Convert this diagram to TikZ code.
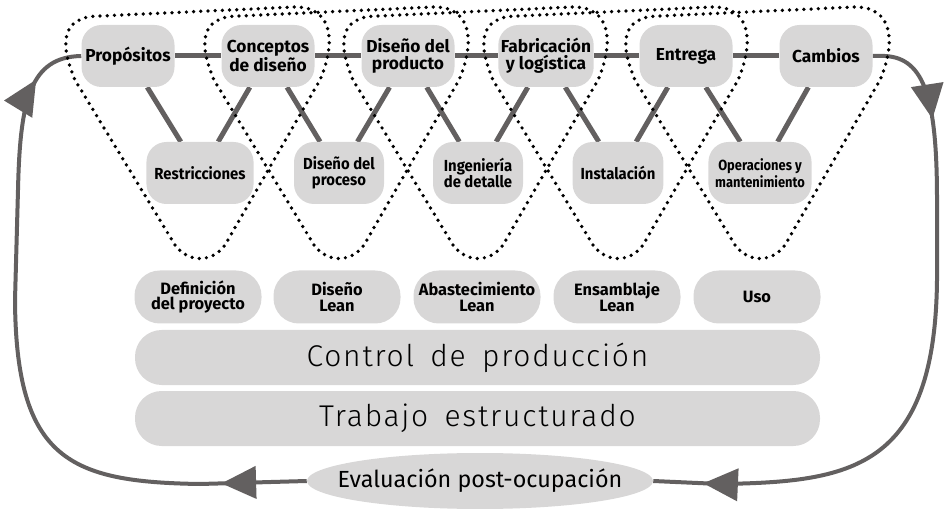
\documentclass[tikz,border=0pt]{standalone}
\usepackage{fontspec}
\setmainfont{Fira Sans}
\newfontfamily\nodefont{Fira Sans}
\newfontfamily\midfont{Fira Sans}[FakeStretch=0.93]
\newfontfamily\opfont{Fira Sans}[FakeStretch=0.88]
\newfontfamily\barfont{Fira Sans Light}[LetterSpace=6,WordSpace=1.6]
\newfontfamily\evfont{Fira Sans}
\usetikzlibrary{arrows.meta,decorations.markings,shapes.geometric}
\pgfdeclarelayer{bg}
\pgfsetlayers{bg,main}
\definecolor{linegray}{HTML}{636060}
\definecolor{boxgray}{HTML}{D8D7D7}
\begin{document}
\begin{tikzpicture}[x=0.75pt,y=-0.75pt,
  topbox/.style={fill=boxgray, rounded corners=15pt, minimum width=69.75pt, minimum height=46.5pt,
    inner xsep=2pt, inner ysep=0pt, align=center, font=\nodefont\bfseries\fontsize{13}{12.5}\selectfont},
  midbox/.style={fill=boxgray, rounded corners=15pt, minimum width=67.5pt, minimum height=46.5pt,
    inner xsep=6pt, inner ysep=0pt, align=center, font=\midfont\bfseries\fontsize{12}{12.3}\selectfont},
  lowbox/.style={fill=boxgray, rounded corners=19pt, minimum width=95.25pt, minimum height=39.75pt,
    inner xsep=2pt, inner ysep=0pt, align=center, font=\nodefont\bfseries\fontsize{12.3}{11.3}\selectfont},
  barbox/.style={fill=boxgray, rounded corners=20pt, minimum width=513.75pt, minimum height=41.25pt,
    inner sep=0pt, font=\barfont\fontsize{22.5}{24}\selectfont},
  conn/.style={draw=linegray, line width=3.75pt},
  loopline/.style={draw=linegray, line width=3pt},
  loopdots/.style={draw=black, line width=2.8pt, line cap=round, dash pattern=on 0pt off 5.4pt},
  headat2/.style 2 args={postaction={decorate}, decoration={markings,
    mark=at position #1 with {\arrow[linegray]{Triangle[length=26pt,width=24pt]}},
    mark=at position #2 with {\arrow[linegray]{Triangle[length=26pt,width=24pt]}}}}
]
\useasboundingbox (0,0) rectangle (949,509);

% top row
\node[topbox] (p1) at (128,56) {Propósitos};
\node[topbox] (p2) at (268,56) {Conceptos\\de diseño};
\node[topbox] (p3) at (408,56) {Diseño del\\producto};
\node[topbox] (p4) at (546,56) {Fabricación\\y logística};
\node[topbox] (p5) at (686,56) {Entrega};
\node[topbox] (p6) at (826,56) {Cambios};

% second row
\node[midbox] (b1) at (200,173) {Restricciones};
\node[midbox] (b2) at (339,173) {Diseño del\\proceso};
\node[midbox] (b3) at (478,173) {Ingeniería\\de detalle};
\node[midbox] (b4) at (618,173) {Instalación};
\node[midbox, font=\opfont\bfseries\fontsize{11}{11}\selectfont, inner xsep=5pt] (b5) at (760,173) {Operaciones y\\mantenimiento};

% third row
\node[lowbox] (l1) at (198,297) {Definición\\del proyecto};
\node[lowbox] (l2) at (337,297) {Diseño\\Lean};
\node[lowbox] (l3) at (477,297) {Abastecimiento\\Lean};
\node[lowbox] (l4) at (617,297) {Ensamblaje\\Lean};
\node[lowbox] (l5) at (757,297) {Uso};

% bars
\node[barbox] (c1) at (477.5,357.5) {Control de producción};
\node[barbox] (c2) at (477.5,418.5) {Trabajo estructurado};

% ellipse
\node[ellipse, fill=boxgray, minimum width=259.5pt, minimum height=42pt, inner sep=0pt,
  font=\evfont\fontsize{17.5}{20}\selectfont] (ev) at (480,481) {\makebox[0pt]{Evaluación post-ocupación}};

% connectors behind nodes
\begin{pgfonlayer}{bg}
  \draw[conn] (p1) -- (p2) -- (p3) -- (p4) -- (p5) -- (p6);
  \draw[conn] (p1) -- (b1);
  \draw[conn] (p2) -- (b1);
  \draw[conn] (p2) -- (b2);
  \draw[conn] (p3) -- (b2);
  \draw[conn] (p3) -- (b3);
  \draw[conn] (p4) -- (b3);
  \draw[conn] (p4) -- (b4);
  \draw[conn] (p5) -- (b4);
  \draw[conn] (p5) -- (b5);
  \draw[conn] (p6) -- (b5);
\end{pgfonlayer}

% feedback loops
\draw[loopline, headat2={64pt}{-40pt}] (ev.west) -- (200,484) .. controls (70,482) and (16,460) .. (15,300)
  -- (18,190) .. controls (20,100) and (30,57) .. (p1.west);
\draw[loopline, headat2={74pt}{-37.5pt}] (p6.east) -- (885,56) .. controls (925,58) and (937,100) .. (937,200)
  -- (937,280) .. controls (935,470) and (850,482) .. (720,484) -- (ev.east);

% dotted groupings
\foreach \cx in {200,339,478,618,760}{
  \draw[loopdots, shift={(\cx,0)}] (-100,16) .. controls (-140,16) and (-140,45) .. (-125,80)
    -- (-25,245) .. controls (-12,263) and (12,263) .. (25,245)
    -- (120,80) .. controls (135,45) and (135,7) .. (95,7) -- cycle;
}
\end{tikzpicture}
\end{document}
